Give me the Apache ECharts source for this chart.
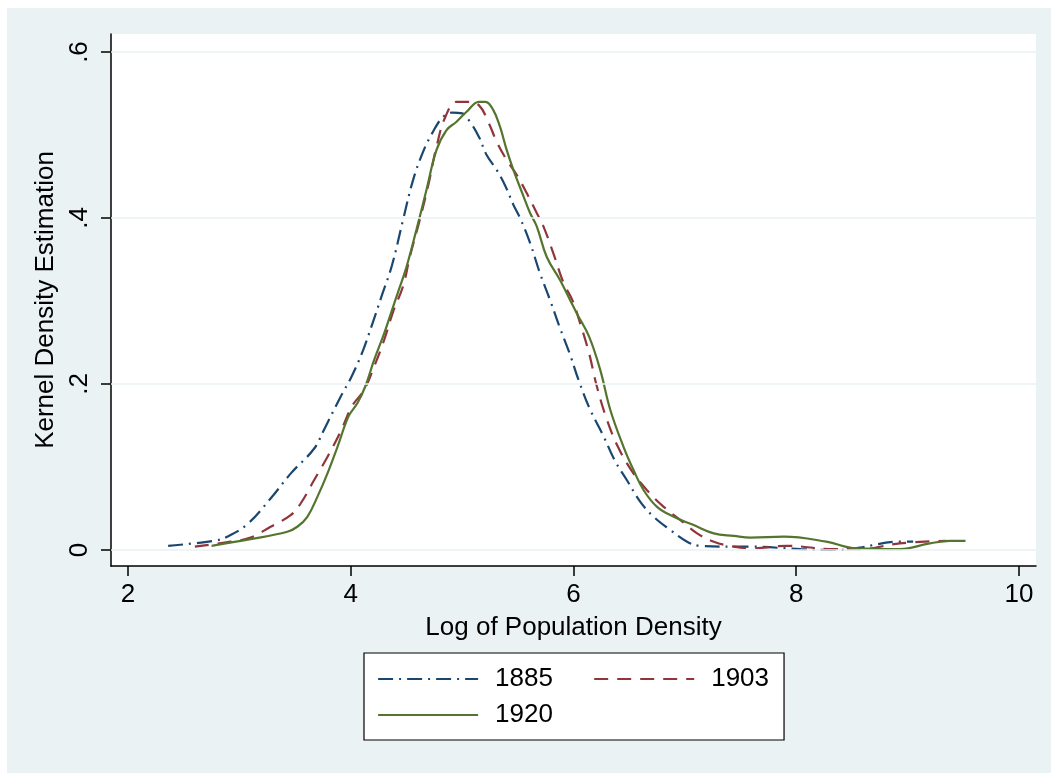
<!DOCTYPE html>
<html><head><meta charset="utf-8">
<script src="https://cdn.jsdelivr.net/npm/echarts@6/dist/echarts.min.js"></script>
<style>html,body{margin:0;padding:0;background:#fff}#c{width:1051px;height:773px}</style>
</head><body><div id="c"></div>
<script>
const xTicks = [2, 4, 6, 8, 10];
const yTicks = [0, 0.2, 0.4, 0.6];
const years = ['1885', '1903', '1920'];

const x1885 = [2.36,2.77,2.89,3.07,3.28,3.46,3.67,3.76,3.91,4.00,4.10,4.19,4.28,4.37,4.47,4.56,4.65,4.73,4.83,4.91,5.00,5.07,5.15,5.22,5.31,5.39,5.46,5.52,5.61,5.70,5.79,5.88,5.97,6.05,6.15,6.27,6.37,6.48,6.60,6.72,6.87,7.02,7.14,7.44,7.60,8.04,8.39,8.57,8.93,9.05];
const y1885 = [0.005,0.011,0.016,0.031,0.062,0.092,0.122,0.145,0.185,0.207,0.237,0.271,0.307,0.343,0.398,0.446,0.480,0.502,0.522,0.527,0.526,0.516,0.498,0.476,0.458,0.438,0.416,0.400,0.370,0.333,0.301,0.267,0.235,0.203,0.169,0.137,0.108,0.084,0.058,0.040,0.024,0.010,0.005,0.004,0.004,0.001,0.000,0.003,0.010,0.010];

const x1903 = [2.60,2.92,3.10,3.28,3.46,3.55,3.67,3.79,3.91,4.01,4.12,4.21,4.30,4.38,4.47,4.53,4.62,4.70,4.77,4.85,4.95,5.04,5.15,5.24,5.31,5.40,5.49,5.58,5.67,5.73,5.82,5.91,5.99,6.06,6.14,6.21,6.30,6.40,6.52,6.66,6.81,6.96,7.11,7.26,7.44,7.60,7.92,8.33,8.57,8.93,9.35];
const y1903 = [0.004,0.010,0.015,0.028,0.042,0.056,0.084,0.112,0.143,0.173,0.193,0.221,0.253,0.287,0.318,0.353,0.398,0.442,0.486,0.522,0.540,0.540,0.536,0.514,0.492,0.470,0.452,0.430,0.406,0.390,0.357,0.322,0.301,0.273,0.237,0.197,0.157,0.124,0.096,0.072,0.052,0.036,0.020,0.010,0.004,0.002,0.005,0.001,0.001,0.008,0.011];

const x1920 = [2.75,3.10,3.43,3.52,3.61,3.70,3.79,3.88,3.98,4.06,4.13,4.21,4.30,4.38,4.42,4.50,4.59,4.68,4.77,4.86,4.95,5.04,5.15,5.21,5.28,5.34,5.40,5.46,5.54,5.61,5.67,5.76,5.88,5.97,6.03,6.14,6.24,6.33,6.45,6.54,6.63,6.75,6.90,7.08,7.26,7.44,7.59,7.89,8.27,8.54,8.93,9.20,9.38,9.52];
const y1920 = [0.005,0.013,0.022,0.028,0.040,0.064,0.092,0.124,0.161,0.177,0.197,0.229,0.261,0.293,0.309,0.341,0.386,0.434,0.482,0.506,0.516,0.528,0.540,0.540,0.530,0.510,0.482,0.458,0.430,0.406,0.390,0.353,0.325,0.301,0.285,0.257,0.217,0.169,0.124,0.096,0.072,0.052,0.040,0.030,0.020,0.017,0.015,0.016,0.010,0.002,0.001,0.008,0.011,0.011];

const zip = (xs, ys) => xs.map((x, i) => [x, ys[i]]);
const FONT = '"Liberation Sans", Arial, Helvetica, sans-serif';
const BG = '#eaf2f3';

const chart = echarts.init(document.getElementById('c'));
const axisCommon = {
  axisLine: {show: true, onZero: false, lineStyle: {color: '#000', width: 1.5}},
  splitLine: {show: false},
  nameLocation: 'middle',
  nameTextStyle: {fontSize: 26, color: '#000', fontFamily: FONT}
};
const mkSeries = (name, xs, ys, color, dash) => ({
  name, type: 'line', data: zip(xs, ys), symbol: 'none', showSymbol: false,
  smooth: 0.4, z: 3,
  lineStyle: {color, width: 2.2, type: dash, cap: 'butt'},
  itemStyle: {color}
});

chart.setOption({
  animation: false,
  backgroundColor: '#fff',
  textStyle: {fontFamily: FONT},
  graphic: {elements: [{type: 'rect', silent: true, z: -100,
    shape: {x: 7, y: 8, width: 1044, height: 765}, style: {fill: BG}}]},
  grid: {left: 111, right: 15, top: 34, bottom: 207, show: true, backgroundColor: '#fff', borderWidth: 0},
  xAxis: Object.assign({}, axisCommon, {
    type: 'value', min: 1.847, max: 10.153,
    axisTick: {show: true, length: 10, customValues: xTicks, lineStyle: {color: '#000', width: 1.5}},
    axisLabel: {customValues: xTicks, fontSize: 26, color: '#000', margin: 16, fontFamily: FONT},
    name: 'Log of Population Density', nameGap: 49
  }),
  yAxis: Object.assign({}, axisCommon, {
    type: 'value', min: -0.0193, max: 0.6217,
    axisTick: {show: true, length: 10, customValues: yTicks, lineStyle: {color: '#000', width: 1.5}},
    axisLabel: {customValues: yTicks, rotate: 90, fontSize: 26, color: '#000', margin: 18, fontFamily: FONT,
      formatter: v => Math.abs(v) < 1e-9 ? '0' : v.toFixed(1).replace(/^0/, '')},
    name: 'Kernel Density Estimation', nameGap: 40, nameRotate: 90
  }),
  legend: {
    left: 364, top: 653, width: 395, orient: 'horizontal',
    padding: [13, 15, 12, 13], itemGap: 10, itemWidth: 100, itemHeight: 14,
    itemStyle: {opacity: 0, borderWidth: 0},
    lineStyle: {width: 2.2},
    backgroundColor: '#fff', borderColor: '#000', borderWidth: 1.2, borderRadius: 0,
    textStyle: {fontSize: 26, lineHeight: 26, color: '#000', fontFamily: FONT, padding: [0, 0, 0, 12]},
    data: [{name: years[0], textStyle: {width: 88}}, {name: years[1]}, {name: years[2]}]
  },
  series: [
    {name: 'grid', type: 'line', data: [], z: 1, silent: true,
      markLine: {silent: true, symbol: ['none', 'none'], label: {show: false}, animation: false,
        lineStyle: {color: BG, type: 'solid', width: 1.5},
        data: yTicks.map(v => ({yAxis: v}))}},
    mkSeries(years[0], x1885, y1885, '#1a476f', [15, 6, 2, 6]),
    mkSeries(years[1], x1903, y1903, '#90353b', [14, 9]),
    mkSeries(years[2], x1920, y1920, '#55752f', 'solid')
  ]
});
</script></body></html>
